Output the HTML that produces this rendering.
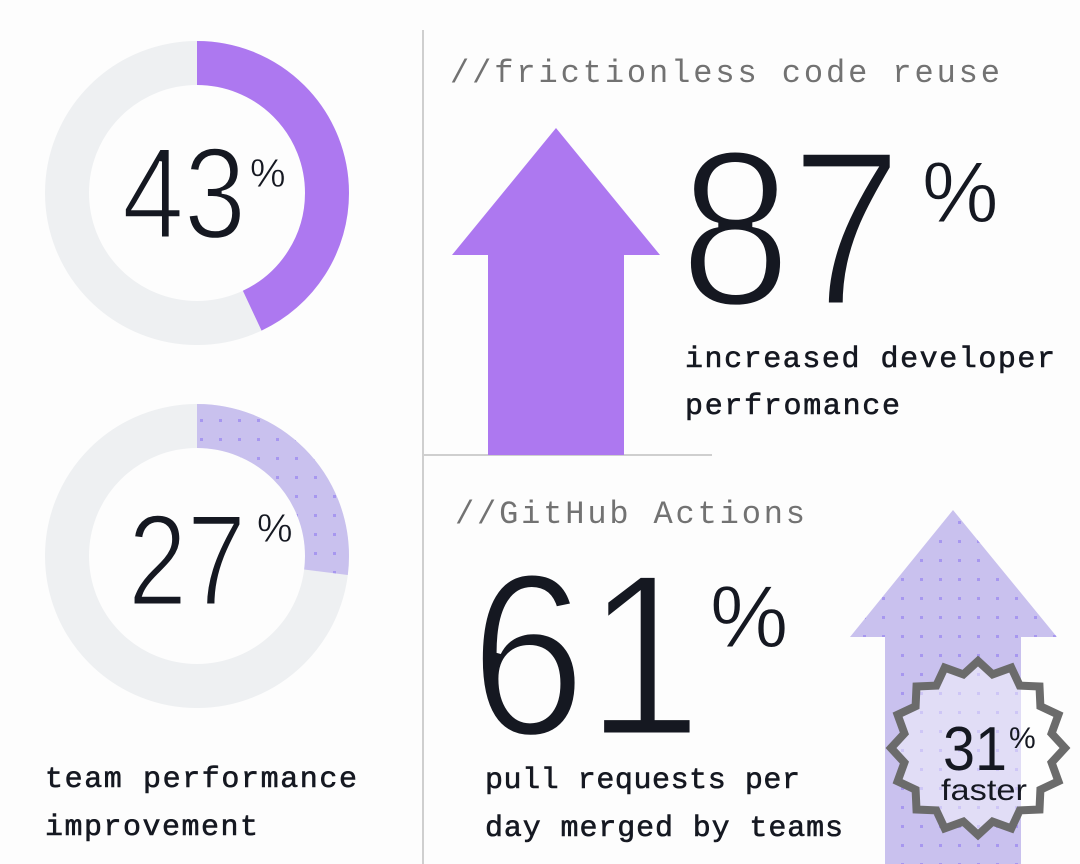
<!DOCTYPE html>
<html><head><meta charset="utf-8"><style>
html,body{margin:0;padding:0;background:#fdfdfd;width:1080px;height:864px;overflow:hidden}
</style></head><body>
<svg width="1080" height="864" viewBox="0 0 1080 864" xmlns="http://www.w3.org/2000/svg">
<defs>
<pattern id="dots" width="19" height="19" patternUnits="userSpaceOnUse">
<rect width="19" height="19" fill="#c9c1ee"/>
<rect x="8" y="8" width="3" height="3" fill="#a797ef"/>
</pattern>
</defs>
<rect width="1080" height="864" fill="#fdfdfd"/>
<line x1="423" y1="30" x2="423" y2="864" stroke="#cfcfcf" stroke-width="2"/>
<line x1="423" y1="455" x2="712" y2="455" stroke="#cfcfcf" stroke-width="2"/>
<circle cx="197" cy="193" r="130" fill="none" stroke="#eef0f2" stroke-width="44"/>
<circle cx="197" cy="193" r="130" fill="none" stroke="#ad78f0" stroke-width="44" stroke-dasharray="351.2 1000" transform="rotate(-90 197 193)"/>
<circle cx="197" cy="556" r="130" fill="none" stroke="#eef0f2" stroke-width="44"/>
<circle cx="197" cy="556" r="130" fill="none" stroke="url(#dots)" stroke-width="44" stroke-dasharray="220.5 1000" transform="rotate(-90 197 556)"/>
<polygon points="556,128 660,255 624,255 624,455 488,455 488,255 452,255" fill="#ad78f0"/>
<polygon points="953,510 1057,637 1021,637 1021,864 885,864 885,637 850,637" fill="url(#dots)"/>
<polygon id="star" fill="rgba(255,255,255,0.45)" stroke="#6b6b6b" stroke-width="8" stroke-linejoin="miter" points=""/>
<script>
(function(){var cx=978,cy=748,n=16,p=[];for(var i=0;i<2*n;i++){var r=i%2?75:87;var a=Math.PI*i/n-Math.PI/2;p.push((cx+r*Math.cos(a)).toFixed(1)+","+(cy+r*Math.sin(a)).toFixed(1));}document.getElementById('star').setAttribute('points',p.join(' '));})();
</script>
<g font-family="Liberation Sans, sans-serif" fill="#151821" stroke="#fdfdfd" paint-order="normal">
<text x="122" y="238" font-size="130" stroke-width="3" textLength="124" lengthAdjust="spacingAndGlyphs">43</text>
<text x="250" y="187" font-size="40" stroke-width="0.5">%</text>
<text x="128" y="605" font-size="130" stroke-width="3" textLength="118" lengthAdjust="spacingAndGlyphs">27</text>
<text x="257" y="542" font-size="40" stroke-width="0.5">%</text>
<text x="680" y="305" font-size="222" stroke-width="5" textLength="222" lengthAdjust="spacingAndGlyphs">87</text>
<text x="922" y="222" font-size="86" stroke-width="1">%</text>
<text x="470" y="735" font-size="232" stroke-width="5" textLength="232" lengthAdjust="spacingAndGlyphs">61</text>
<text x="710" y="647" font-size="88" stroke-width="1">%</text>
<text x="943" y="770" font-size="62" stroke="none" textLength="64" lengthAdjust="spacingAndGlyphs">31</text>
<text x="1009" y="748" font-size="30" stroke="none">%</text>
<text x="941" y="800" font-size="30" stroke="none" textLength="86" lengthAdjust="spacingAndGlyphs">faster</text>
</g>
<g font-family="Liberation Mono, monospace">
<text x="450" y="82" font-size="32" fill="#727272" textLength="550" lengthAdjust="spacing">//frictionless code reuse</text>
<text x="455" y="523" font-size="32" fill="#727272" textLength="350" lengthAdjust="spacing">//GitHub Actions</text>
<g fill="#151821" font-size="30" stroke="#151821" stroke-width="0.6">
<text x="685" y="367" textLength="370" lengthAdjust="spacing">increased developer</text>
<text x="685" y="414" textLength="215" lengthAdjust="spacing">perfromance</text>
<text x="485" y="788" textLength="315" lengthAdjust="spacing">pull requests per</text>
<text x="485" y="836" textLength="358" lengthAdjust="spacing">day merged by teams</text>
<text x="45" y="787" textLength="312" lengthAdjust="spacing">team performance</text>
<text x="45" y="835" textLength="213" lengthAdjust="spacing">improvement</text>
</g>
</g>
</svg>
</body></html>
